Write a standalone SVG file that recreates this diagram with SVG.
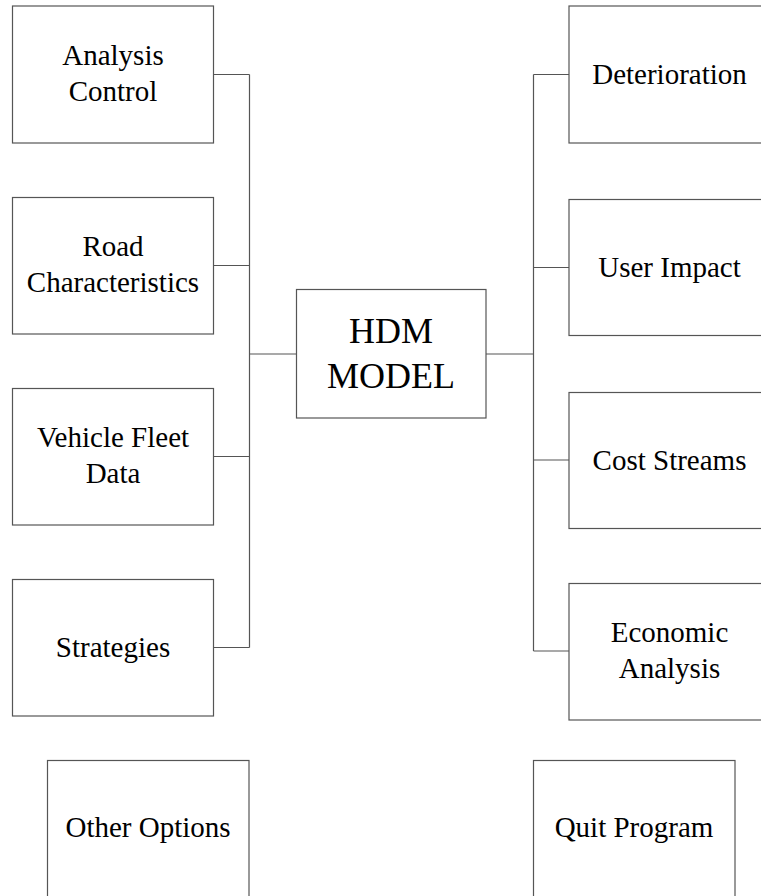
<svg xmlns="http://www.w3.org/2000/svg" width="761" height="896" viewBox="0 0 761 896">
<style>
.box{fill:#fff;stroke:#555;stroke-width:1.2}
.c{fill:none;stroke:#555;stroke-width:1.2}
text{font-family:"Liberation Serif","Times New Roman",serif;font-size:29px;fill:#000;text-anchor:middle}
.big{font-size:36px}
</style>
<rect width="761" height="896" fill="#fff"/>
<g id="connectors">
<path class="c" d="M213 74.5H249.5M213 265.5H249.5M213 456.5H249.5M213 647.5H249.5M249.5 74.5V647.5M249.5 354H296.5"/>
<path class="c" d="M533.5 74.5H569M533.5 267.5H569M533.5 460H569M533.5 651H569M533.5 74.5V651M486 354H533.5"/>
</g>
<g id="analysis-control"><rect class="box" x="12.5" y="6" width="201" height="137"/><text x="113" y="65">Analysis</text><text x="113" y="100.5">Control</text></g>
<g id="road-characteristics"><rect class="box" x="12.5" y="197.5" width="201" height="136.5"/><text x="113" y="256">Road</text><text x="113" y="291.5">Characteristics</text></g>
<g id="vehicle-fleet-data"><rect class="box" x="12.5" y="388.5" width="201" height="136.5"/><text x="113" y="447">Vehicle Fleet</text><text x="113" y="482.5">Data</text></g>
<g id="strategies"><rect class="box" x="12.5" y="579.5" width="201" height="136.5"/><text x="113" y="656.5">Strategies</text></g>
<g id="hdm-model"><rect class="box" x="296.5" y="289.5" width="189.5" height="128.5"/><text class="big" x="391" y="342.5">HDM</text><text class="big" x="391" y="387.5">MODEL</text></g>
<g id="deterioration"><rect class="box" x="569" y="6" width="201" height="137"/><text x="669.5" y="83.5">Deterioration</text></g>
<g id="user-impact"><rect class="box" x="569" y="199.5" width="201" height="136"/><text x="669.5" y="276.5">User Impact</text></g>
<g id="cost-streams"><rect class="box" x="569" y="392.5" width="201" height="136"/><text x="669.5" y="469.5">Cost Streams</text></g>
<g id="economic-analysis"><rect class="box" x="569" y="583.5" width="201" height="136.5"/><text x="669.5" y="642">Economic</text><text x="669.5" y="677.5">Analysis</text></g>
<g id="other-options"><rect class="box" x="47.5" y="760.5" width="201.5" height="137"/><text x="148" y="836.5">Other Options</text></g>
<g id="quit-program"><rect class="box" x="533.5" y="760.5" width="201.5" height="137"/><text x="634" y="836.5">Quit Program</text></g>
</svg>
